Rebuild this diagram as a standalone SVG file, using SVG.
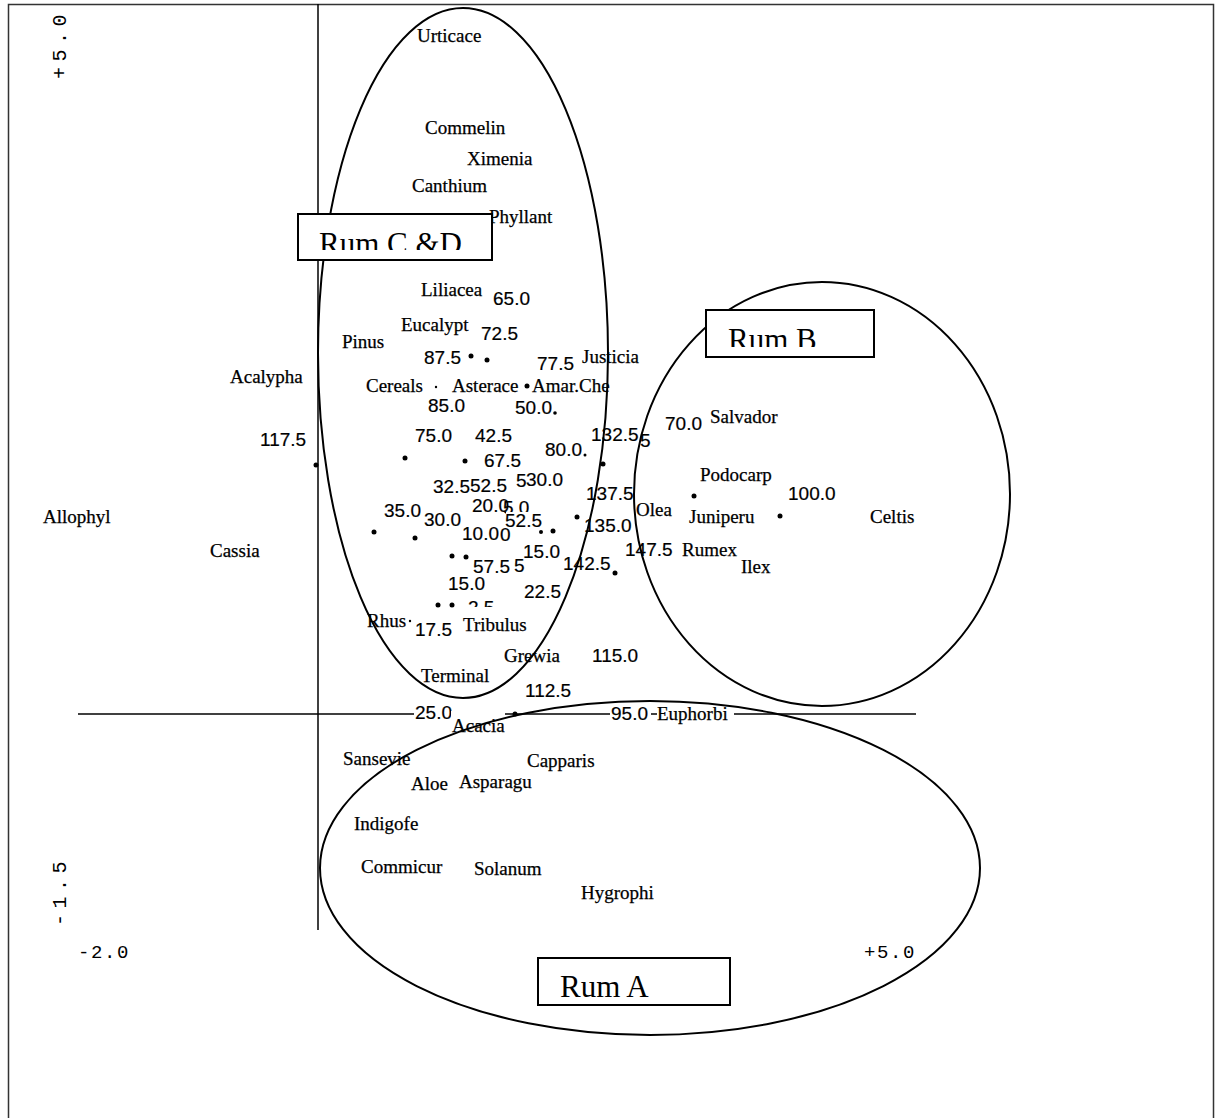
<svg xmlns="http://www.w3.org/2000/svg" width="1220" height="1118" viewBox="0 0 1220 1118">
<style>
.sp{font-family:"Liberation Serif","Times New Roman",serif;font-size:19px;fill:#000;stroke:#000;stroke-width:0.25}
.num{font-family:"Liberation Sans",Arial,sans-serif;font-size:19px;fill:#000;stroke:#000;stroke-width:0.2}
.ax{font-family:"Liberation Mono","Courier New",monospace;font-size:19px;fill:#000;letter-spacing:1.6px}
.axv{font-family:"Liberation Mono","Courier New",monospace;font-size:20px;fill:#000;letter-spacing:5.5px}
.rum{font-family:"Liberation Serif","Times New Roman",serif;font-size:31px;fill:#000}
.ell{fill:none;stroke:#000;stroke-width:2}
.box{fill:#fff;stroke:#000;stroke-width:2}
.line{stroke:#000;stroke-width:1.5;fill:none}
.bg{fill:#fff}
</style>
<defs>
<clipPath id="clipCD"><rect x="300" y="216" width="190" height="34"/></clipPath>
<clipPath id="clipB"><rect x="708" y="312" width="164" height="35"/></clipPath>
<clipPath id="clipA"><rect x="540" y="960" width="188" height="38"/></clipPath>
</defs>
<rect x="0" y="0" width="1220" height="1118" fill="#fff"/>
<g id="frame"><rect x="8.5" y="4.5" width="1205" height="1125" fill="none" stroke="#333" stroke-width="1.5"/></g>
<g id="connectors">
<line class="line" x1="318" y1="4" x2="318" y2="930"/>
<line class="line" x1="78" y1="714" x2="916" y2="714"/>
</g>
<g id="axis-labels">
<text class="axv" transform="translate(66,79) rotate(-90)">+5.0</text>
<text class="axv" transform="translate(66,926) rotate(-90)">-1.5</text>
<text class="ax" x="78" y="958">-2.0</text>
<text class="ax" x="864" y="958">+5.0</text>
</g>
<g id="points">
<circle cx="316" cy="465" r="2.5"/><circle cx="405" cy="458" r="2.5"/><circle cx="465" cy="461" r="2.5"/>
<circle cx="471" cy="356" r="2.5"/><circle cx="487" cy="360" r="2.5"/><circle cx="436" cy="387" r="1.2"/>
<circle cx="527" cy="386" r="2.5"/><circle cx="555" cy="413" r="1.8"/><circle cx="585" cy="455" r="1.5"/>
<circle cx="603" cy="464" r="2.5"/><circle cx="577" cy="517" r="2.5"/><circle cx="615" cy="573" r="2.5"/>
<circle cx="694" cy="496" r="2.5"/><circle cx="780" cy="516" r="2.5"/><circle cx="374" cy="532" r="2.5"/>
<circle cx="415" cy="538" r="2.5"/><circle cx="452" cy="556" r="2.5"/><circle cx="466" cy="557" r="2.5"/>
<circle cx="438" cy="605" r="2.5"/><circle cx="452" cy="605" r="2.5"/><circle cx="541" cy="532" r="2"/>
<circle cx="553" cy="531" r="2.5"/><circle cx="515" cy="714" r="2.5"/><circle cx="410" cy="621" r="1.2"/>
</g>
<g id="species-labels">
<text class="sp" x="417" y="42">Urticace</text>
<text class="sp" x="425" y="134">Commelin</text>
<text class="sp" x="467" y="165">Ximenia</text>
<text class="sp" x="412" y="192">Canthium</text>
<text class="sp" x="489" y="223">Phyllant</text>
<text class="sp" x="421" y="296">Liliacea</text>
<text class="sp" x="401" y="331">Eucalypt</text>
<text class="sp" x="342" y="348">Pinus</text>
<text class="sp" x="582" y="363">Justicia</text>
<text class="sp" x="230" y="383">Acalypha</text>
<text class="sp" x="366" y="392">Cereals</text>
<text class="sp" x="452" y="392">Asterace</text>
<text class="sp" x="532" y="392">Amar.Che</text>
<text class="sp" x="710" y="423">Salvador</text>
<text class="sp" x="700" y="481">Podocarp</text>
<text class="sp" x="636" y="516">Olea</text>
<text class="sp" x="689" y="523">Juniperu</text>
<text class="sp" x="870" y="523">Celtis</text>
<text class="sp" x="43" y="523">Allophyl</text>
<text class="sp" x="210" y="557">Cassia</text>
<text class="sp" x="682" y="556">Rumex</text>
<text class="sp" x="741" y="573">Ilex</text>
<text class="sp" x="367" y="627">Rhus</text>
<text class="sp" x="504" y="662">Grewia</text>
<text class="sp" x="421" y="682">Terminal</text>
<text class="sp" x="343" y="765">Sansevie</text>
<text class="sp" x="527" y="767">Capparis</text>
<text class="sp" x="411" y="790">Aloe</text>
<text class="sp" x="459" y="788">Asparagu</text>
<text class="sp" x="354" y="830">Indigofe</text>
<text class="sp" x="361" y="873">Commicur</text>
<text class="sp" x="474" y="875">Solanum</text>
<text class="sp" x="581" y="899">Hygrophi</text>
</g>
<g id="sample-labels">
<text class="num" x="493" y="305">65.0</text>
<text class="num" x="481" y="340">72.5</text>
<text class="num" x="424" y="364">87.5</text>
<text class="num" x="537" y="370">77.5</text>
<text class="num" x="428" y="412">85.0</text>
<text class="num" x="515" y="414">50.0</text>
<text class="num" x="260" y="446">117.5</text>
<text class="num" x="415" y="442">75.0</text>
<text class="num" x="475" y="442">42.5</text>
<text class="num" x="484" y="467">67.5</text>
<text class="num" x="545" y="456">80.0</text>
<text class="num" x="591" y="441">132.5</text>
<text class="num" x="640" y="447">5</text>
<text class="num" x="665" y="430">70.0</text>
<text class="num" x="788" y="500">100.0</text>
<text class="num" x="586" y="500">137.5</text>
<text class="num" x="584" y="532">135.0</text>
<text class="num" x="563" y="570">142.5</text>
<text class="num" x="625" y="556">147.5</text>
<text class="num" x="384" y="517">35.0</text>
<text class="num" x="433" y="493">32.5</text>
<text class="num" x="470" y="492">52.5</text>
<text class="num" x="516" y="487">5</text>
<text class="num" x="526" y="486">30.0</text>
<text class="num" x="472" y="512">20.0</text>
<text class="num" x="503" y="514">5.0</text>
<rect class="bg" x="424" y="511" width="36" height="16"/>
<text class="num" x="424" y="526">30.0</text>
<rect class="bg" x="506" y="512" width="46" height="16"/>
<text class="num" x="505" y="527">52.5</text>
<rect class="bg" x="462" y="524" width="40" height="16"/>
<text class="num" x="462" y="540">10.0</text>
<text class="num" x="500" y="541">0</text>
<text class="num" x="523" y="558">15.0</text>
<text class="num" x="473" y="573">57.5</text>
<text class="num" x="514" y="572">5</text>
<text class="num" x="448" y="590">15.0</text>
<text class="num" x="524" y="598">22.5</text>
<text class="num" x="468" y="614">2.5</text>
<rect class="bg" x="462" y="607" width="70" height="10"/>
<text class="sp" x="463" y="631">Tribulus</text>
<text class="num" x="415" y="636">17.5</text>
<text class="num" x="592" y="662">115.0</text>
<text class="num" x="525" y="697">112.5</text>
<rect class="bg" x="414" y="702" width="42" height="18"/>
<text class="num" x="415" y="719">25.0</text>
<rect class="bg" x="451" y="711" width="54" height="25"/>
<text class="sp" x="452" y="732">Acacia</text>
<rect class="bg" x="610" y="702" width="41" height="18"/>
<text class="num" x="611" y="720">95.0</text>
<rect class="bg" x="657" y="702" width="77" height="22"/>
<text class="sp" x="657" y="720">Euphorbi</text>
</g>
<g id="cluster-rum-cd">
<ellipse class="ell" cx="463" cy="353" rx="145" ry="345"/>
</g>
<g id="cluster-rum-b">
<ellipse class="ell" cx="822" cy="494" rx="188" ry="212"/>
</g>
<g id="cluster-rum-a">
<ellipse class="ell" cx="650" cy="868" rx="330" ry="167"/>
</g>
<g id="label-rum-cd">
<rect class="box" x="298" y="214" width="194" height="46"/>
<text class="rum" x="319" y="254" clip-path="url(#clipCD)">Rum C &amp;D</text>
</g>
<g id="label-rum-b">
<rect class="box" x="706" y="310" width="168" height="47"/>
<text class="rum" x="728" y="350" clip-path="url(#clipB)">Rum B</text>
</g>
<g id="label-rum-a">
<rect class="box" x="538" y="958" width="192" height="47"/>
<text class="rum" x="560" y="997" clip-path="url(#clipA)">Rum A</text>
</g>
</svg>
